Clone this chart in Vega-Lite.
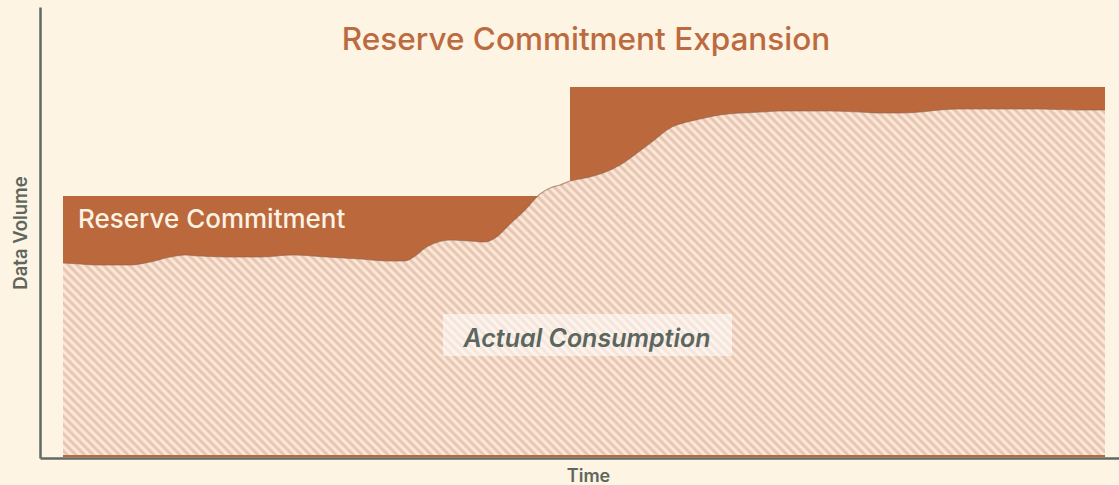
{
  "$schema": "https://vega.github.io/schema/vega-lite/v6.json",
  "width": 1079,
  "height": 451,
  "autosize": {"type": "none"},
  "padding": {"left": 40, "top": 7, "right": 0, "bottom": 27},
  "background": "#fdf4e3",
  "config": {"view": {"stroke": null}},
  "datasets": {
    "reserve": [
      {"t": 0, "v": 261},
      {"t": 507, "v": 370},
      {"t": 1042, "v": 370}
    ],
    "usage": [
      {"t": 0, "v": 194}, {"t": 17, "v": 193}, {"t": 37, "v": 192}, {"t": 67, "v": 192},
      {"t": 87, "v": 195}, {"t": 107, "v": 200}, {"t": 122, "v": 202}, {"t": 137, "v": 201},
      {"t": 167, "v": 200}, {"t": 197, "v": 200}, {"t": 230, "v": 202}, {"t": 264, "v": 200},
      {"t": 297, "v": 198}, {"t": 327, "v": 196}, {"t": 342, "v": 196}, {"t": 352, "v": 201},
      {"t": 362, "v": 209}, {"t": 372, "v": 214}, {"t": 387, "v": 217}, {"t": 407, "v": 216},
      {"t": 422, "v": 215}, {"t": 432, "v": 219}, {"t": 447, "v": 233}, {"t": 462, "v": 247},
      {"t": 477, "v": 263}, {"t": 487, "v": 269}, {"t": 497, "v": 272}, {"t": 507, "v": 276},
      {"t": 522, "v": 279}, {"t": 540, "v": 284}, {"t": 557, "v": 292}, {"t": 574, "v": 304},
      {"t": 590, "v": 316}, {"t": 607, "v": 329}, {"t": 624, "v": 335}, {"t": 637, "v": 338},
      {"t": 657, "v": 342}, {"t": 677, "v": 344}, {"t": 697, "v": 345}, {"t": 717, "v": 346},
      {"t": 737, "v": 346}, {"t": 767, "v": 346}, {"t": 797, "v": 345}, {"t": 817, "v": 344},
      {"t": 837, "v": 344}, {"t": 857, "v": 345}, {"t": 877, "v": 347}, {"t": 897, "v": 348},
      {"t": 937, "v": 348}, {"t": 977, "v": 348}, {"t": 1017, "v": 347}, {"t": 1042, "v": 347}
    ],
    "labels": [
      {"t": 15, "v": 237, "label": "Reserve Commitment", "kind": "reserve"},
      {"t": 524, "v": 118, "label": "Actual Consumption", "kind": "usage"},
      {"t": 523, "v": 407, "label": "Reserve Commitment Expansion", "kind": "title"}
    ],
    "box": [
      {"t0": 380, "t1": 669, "v0": 101, "v1": 143}
    ]
  },
  "layer": [
    {
      "data": {"name": "reserve"},
      "mark": {"type": "area", "interpolate": "step-after", "color": "#bc683d"},
      "encoding": {
        "x": {"field": "t", "type": "quantitative", "scale": {"domain": [-23, 1056], "nice": false, "zero": false},
          "axis": {"title": "Time", "domain": true, "domainColor": "#5f6b63", "domainWidth": 2.5, "ticks": false, "labels": false, "grid": false,
            "titleFont": "Inter", "titleFontSize": 18, "titleFontWeight": 600, "titleColor": "#5d675f", "titlePadding": 9, "titleX": 548}},
        "y": {"field": "v", "type": "quantitative", "scale": {"domain": [-1, 450], "nice": false, "zero": false},
          "axis": {"title": "Data Volume", "domain": true, "domainColor": "#5f6b63", "domainWidth": 2.5, "ticks": false, "labels": false, "grid": false,
            "titleFont": "Inter", "titleFontSize": 18.5, "titleFontWeight": 600, "titleColor": "#5d675f", "titlePadding": 10}},
        "y2": {"datum": 0}
      }
    },
    {
      "data": {"name": "usage"},
      "mark": {"type": "area", "interpolate": "monotone",
        "fill": {"gradient": "linear", "x1": 0, "y1": 1, "x2": 1.2, "y2": 0.602, "stops": [
{"offset":0,"color":"#fcefe2"},{"offset":0.0031,"color":"#e6bea8"},{"offset":0.0063,"color":"#fcefe2"},{"offset":0.0094,"color":"#e6bea8"},{"offset":0.0125,"color":"#fcefe2"},{"offset":0.0156,"color":"#e6bea8"},{"offset":0.0188,"color":"#fcefe2"},{"offset":0.0219,"color":"#e6bea8"},{"offset":0.025,"color":"#fcefe2"},{"offset":0.0281,"color":"#e6bea8"},
{"offset":0.0313,"color":"#fcefe2"},{"offset":0.0344,"color":"#e6bea8"},{"offset":0.0375,"color":"#fcefe2"},{"offset":0.0406,"color":"#e6bea8"},{"offset":0.0438,"color":"#fcefe2"},{"offset":0.0469,"color":"#e6bea8"},{"offset":0.05,"color":"#fcefe2"},{"offset":0.0531,"color":"#e6bea8"},{"offset":0.0563,"color":"#fcefe2"},{"offset":0.0594,"color":"#e6bea8"},
{"offset":0.0625,"color":"#fcefe2"},{"offset":0.0656,"color":"#e6bea8"},{"offset":0.0688,"color":"#fcefe2"},{"offset":0.0719,"color":"#e6bea8"},{"offset":0.075,"color":"#fcefe2"},{"offset":0.0781,"color":"#e6bea8"},{"offset":0.0813,"color":"#fcefe2"},{"offset":0.0844,"color":"#e6bea8"},{"offset":0.0875,"color":"#fcefe2"},{"offset":0.0906,"color":"#e6bea8"},
{"offset":0.0938,"color":"#fcefe2"},{"offset":0.0969,"color":"#e6bea8"},{"offset":0.1,"color":"#fcefe2"},{"offset":0.1031,"color":"#e6bea8"},{"offset":0.1063,"color":"#fcefe2"},{"offset":0.1094,"color":"#e6bea8"},{"offset":0.1125,"color":"#fcefe2"},{"offset":0.1156,"color":"#e6bea8"},{"offset":0.1188,"color":"#fcefe2"},{"offset":0.1219,"color":"#e6bea8"},
{"offset":0.125,"color":"#fcefe2"},{"offset":0.1281,"color":"#e6bea8"},{"offset":0.1313,"color":"#fcefe2"},{"offset":0.1344,"color":"#e6bea8"},{"offset":0.1375,"color":"#fcefe2"},{"offset":0.1406,"color":"#e6bea8"},{"offset":0.1438,"color":"#fcefe2"},{"offset":0.1469,"color":"#e6bea8"},{"offset":0.15,"color":"#fcefe2"},{"offset":0.1531,"color":"#e6bea8"},
{"offset":0.1563,"color":"#fcefe2"},{"offset":0.1594,"color":"#e6bea8"},{"offset":0.1625,"color":"#fcefe2"},{"offset":0.1656,"color":"#e6bea8"},{"offset":0.1688,"color":"#fcefe2"},{"offset":0.1719,"color":"#e6bea8"},{"offset":0.175,"color":"#fcefe2"},{"offset":0.1781,"color":"#e6bea8"},{"offset":0.1813,"color":"#fcefe2"},{"offset":0.1844,"color":"#e6bea8"},
{"offset":0.1875,"color":"#fcefe2"},{"offset":0.1906,"color":"#e6bea8"},{"offset":0.1938,"color":"#fcefe2"},{"offset":0.1969,"color":"#e6bea8"},{"offset":0.2,"color":"#fcefe2"},{"offset":0.2031,"color":"#e6bea8"},{"offset":0.2063,"color":"#fcefe2"},{"offset":0.2094,"color":"#e6bea8"},{"offset":0.2125,"color":"#fcefe2"},{"offset":0.2156,"color":"#e6bea8"},
{"offset":0.2188,"color":"#fcefe2"},{"offset":0.2219,"color":"#e6bea8"},{"offset":0.225,"color":"#fcefe2"},{"offset":0.2281,"color":"#e6bea8"},{"offset":0.2313,"color":"#fcefe2"},{"offset":0.2344,"color":"#e6bea8"},{"offset":0.2375,"color":"#fcefe2"},{"offset":0.2406,"color":"#e6bea8"},{"offset":0.2438,"color":"#fcefe2"},{"offset":0.2469,"color":"#e6bea8"},
{"offset":0.25,"color":"#fcefe2"},{"offset":0.2531,"color":"#e6bea8"},{"offset":0.2563,"color":"#fcefe2"},{"offset":0.2594,"color":"#e6bea8"},{"offset":0.2625,"color":"#fcefe2"},{"offset":0.2656,"color":"#e6bea8"},{"offset":0.2688,"color":"#fcefe2"},{"offset":0.2719,"color":"#e6bea8"},{"offset":0.275,"color":"#fcefe2"},{"offset":0.2781,"color":"#e6bea8"},
{"offset":0.2813,"color":"#fcefe2"},{"offset":0.2844,"color":"#e6bea8"},{"offset":0.2875,"color":"#fcefe2"},{"offset":0.2906,"color":"#e6bea8"},{"offset":0.2938,"color":"#fcefe2"},{"offset":0.2969,"color":"#e6bea8"},{"offset":0.3,"color":"#fcefe2"},{"offset":0.3031,"color":"#e6bea8"},{"offset":0.3063,"color":"#fcefe2"},{"offset":0.3094,"color":"#e6bea8"},
{"offset":0.3125,"color":"#fcefe2"},{"offset":0.3156,"color":"#e6bea8"},{"offset":0.3188,"color":"#fcefe2"},{"offset":0.3219,"color":"#e6bea8"},{"offset":0.325,"color":"#fcefe2"},{"offset":0.3281,"color":"#e6bea8"},{"offset":0.3313,"color":"#fcefe2"},{"offset":0.3344,"color":"#e6bea8"},{"offset":0.3375,"color":"#fcefe2"},{"offset":0.3406,"color":"#e6bea8"},
{"offset":0.3438,"color":"#fcefe2"},{"offset":0.3469,"color":"#e6bea8"},{"offset":0.35,"color":"#fcefe2"},{"offset":0.3531,"color":"#e6bea8"},{"offset":0.3563,"color":"#fcefe2"},{"offset":0.3594,"color":"#e6bea8"},{"offset":0.3625,"color":"#fcefe2"},{"offset":0.3656,"color":"#e6bea8"},{"offset":0.3688,"color":"#fcefe2"},{"offset":0.3719,"color":"#e6bea8"},
{"offset":0.375,"color":"#fcefe2"},{"offset":0.3781,"color":"#e6bea8"},{"offset":0.3813,"color":"#fcefe2"},{"offset":0.3844,"color":"#e6bea8"},{"offset":0.3875,"color":"#fcefe2"},{"offset":0.3906,"color":"#e6bea8"},{"offset":0.3938,"color":"#fcefe2"},{"offset":0.3969,"color":"#e6bea8"},{"offset":0.4,"color":"#fcefe2"},{"offset":0.4031,"color":"#e6bea8"},
{"offset":0.4063,"color":"#fcefe2"},{"offset":0.4094,"color":"#e6bea8"},{"offset":0.4125,"color":"#fcefe2"},{"offset":0.4156,"color":"#e6bea8"},{"offset":0.4188,"color":"#fcefe2"},{"offset":0.4219,"color":"#e6bea8"},{"offset":0.425,"color":"#fcefe2"},{"offset":0.4281,"color":"#e6bea8"},{"offset":0.4313,"color":"#fcefe2"},{"offset":0.4344,"color":"#e6bea8"},
{"offset":0.4375,"color":"#fcefe2"},{"offset":0.4406,"color":"#e6bea8"},{"offset":0.4438,"color":"#fcefe2"},{"offset":0.4469,"color":"#e6bea8"},{"offset":0.45,"color":"#fcefe2"},{"offset":0.4531,"color":"#e6bea8"},{"offset":0.4563,"color":"#fcefe2"},{"offset":0.4594,"color":"#e6bea8"},{"offset":0.4625,"color":"#fcefe2"},{"offset":0.4656,"color":"#e6bea8"},
{"offset":0.4688,"color":"#fcefe2"},{"offset":0.4719,"color":"#e6bea8"},{"offset":0.475,"color":"#fcefe2"},{"offset":0.4781,"color":"#e6bea8"},{"offset":0.4813,"color":"#fcefe2"},{"offset":0.4844,"color":"#e6bea8"},{"offset":0.4875,"color":"#fcefe2"},{"offset":0.4906,"color":"#e6bea8"},{"offset":0.4938,"color":"#fcefe2"},{"offset":0.4969,"color":"#e6bea8"},
{"offset":0.5,"color":"#fcefe2"},{"offset":0.5031,"color":"#e6bea8"},{"offset":0.5063,"color":"#fcefe2"},{"offset":0.5094,"color":"#e6bea8"},{"offset":0.5125,"color":"#fcefe2"},{"offset":0.5156,"color":"#e6bea8"},{"offset":0.5188,"color":"#fcefe2"},{"offset":0.5219,"color":"#e6bea8"},{"offset":0.525,"color":"#fcefe2"},{"offset":0.5281,"color":"#e6bea8"},
{"offset":0.5313,"color":"#fcefe2"},{"offset":0.5344,"color":"#e6bea8"},{"offset":0.5375,"color":"#fcefe2"},{"offset":0.5406,"color":"#e6bea8"},{"offset":0.5438,"color":"#fcefe2"},{"offset":0.5469,"color":"#e6bea8"},{"offset":0.55,"color":"#fcefe2"},{"offset":0.5531,"color":"#e6bea8"},{"offset":0.5563,"color":"#fcefe2"},{"offset":0.5594,"color":"#e6bea8"},
{"offset":0.5625,"color":"#fcefe2"},{"offset":0.5656,"color":"#e6bea8"},{"offset":0.5688,"color":"#fcefe2"},{"offset":0.5719,"color":"#e6bea8"},{"offset":0.575,"color":"#fcefe2"},{"offset":0.5781,"color":"#e6bea8"},{"offset":0.5813,"color":"#fcefe2"},{"offset":0.5844,"color":"#e6bea8"},{"offset":0.5875,"color":"#fcefe2"},{"offset":0.5906,"color":"#e6bea8"},
{"offset":0.5938,"color":"#fcefe2"},{"offset":0.5969,"color":"#e6bea8"},{"offset":0.6,"color":"#fcefe2"},{"offset":0.6031,"color":"#e6bea8"},{"offset":0.6063,"color":"#fcefe2"},{"offset":0.6094,"color":"#e6bea8"},{"offset":0.6125,"color":"#fcefe2"},{"offset":0.6156,"color":"#e6bea8"},{"offset":0.6188,"color":"#fcefe2"},{"offset":0.6219,"color":"#e6bea8"},
{"offset":0.625,"color":"#fcefe2"},{"offset":0.6281,"color":"#e6bea8"},{"offset":0.6313,"color":"#fcefe2"},{"offset":0.6344,"color":"#e6bea8"},{"offset":0.6375,"color":"#fcefe2"},{"offset":0.6406,"color":"#e6bea8"},{"offset":0.6438,"color":"#fcefe2"},{"offset":0.6469,"color":"#e6bea8"},{"offset":0.65,"color":"#fcefe2"},{"offset":0.6531,"color":"#e6bea8"},
{"offset":0.6563,"color":"#fcefe2"},{"offset":0.6594,"color":"#e6bea8"},{"offset":0.6625,"color":"#fcefe2"},{"offset":0.6656,"color":"#e6bea8"},{"offset":0.6688,"color":"#fcefe2"},{"offset":0.6719,"color":"#e6bea8"},{"offset":0.675,"color":"#fcefe2"},{"offset":0.6781,"color":"#e6bea8"},{"offset":0.6813,"color":"#fcefe2"},{"offset":0.6844,"color":"#e6bea8"},
{"offset":0.6875,"color":"#fcefe2"},{"offset":0.6906,"color":"#e6bea8"},{"offset":0.6938,"color":"#fcefe2"},{"offset":0.6969,"color":"#e6bea8"},{"offset":0.7,"color":"#fcefe2"},{"offset":0.7031,"color":"#e6bea8"},{"offset":0.7063,"color":"#fcefe2"},{"offset":0.7094,"color":"#e6bea8"},{"offset":0.7125,"color":"#fcefe2"},{"offset":0.7156,"color":"#e6bea8"},
{"offset":0.7188,"color":"#fcefe2"},{"offset":0.7219,"color":"#e6bea8"},{"offset":0.725,"color":"#fcefe2"},{"offset":0.7281,"color":"#e6bea8"},{"offset":0.7313,"color":"#fcefe2"},{"offset":0.7344,"color":"#e6bea8"},{"offset":0.7375,"color":"#fcefe2"},{"offset":0.7406,"color":"#e6bea8"},{"offset":0.7438,"color":"#fcefe2"},{"offset":0.7469,"color":"#e6bea8"},
{"offset":0.75,"color":"#fcefe2"},{"offset":0.7531,"color":"#e6bea8"},{"offset":0.7563,"color":"#fcefe2"},{"offset":0.7594,"color":"#e6bea8"},{"offset":0.7625,"color":"#fcefe2"},{"offset":0.7656,"color":"#e6bea8"},{"offset":0.7688,"color":"#fcefe2"},{"offset":0.7719,"color":"#e6bea8"},{"offset":0.775,"color":"#fcefe2"},{"offset":0.7781,"color":"#e6bea8"},
{"offset":0.7813,"color":"#fcefe2"},{"offset":0.7844,"color":"#e6bea8"},{"offset":0.7875,"color":"#fcefe2"},{"offset":0.7906,"color":"#e6bea8"},{"offset":0.7938,"color":"#fcefe2"},{"offset":0.7969,"color":"#e6bea8"},{"offset":0.8,"color":"#fcefe2"},{"offset":0.8031,"color":"#e6bea8"},{"offset":0.8063,"color":"#fcefe2"},{"offset":0.8094,"color":"#e6bea8"},
{"offset":0.8125,"color":"#fcefe2"},{"offset":0.8156,"color":"#e6bea8"},{"offset":0.8188,"color":"#fcefe2"},{"offset":0.8219,"color":"#e6bea8"},{"offset":0.825,"color":"#fcefe2"},{"offset":0.8281,"color":"#e6bea8"},{"offset":0.8313,"color":"#fcefe2"},{"offset":0.8344,"color":"#e6bea8"},{"offset":0.8375,"color":"#fcefe2"},{"offset":0.8406,"color":"#e6bea8"},
{"offset":0.8438,"color":"#fcefe2"},{"offset":0.8469,"color":"#e6bea8"},{"offset":0.85,"color":"#fcefe2"},{"offset":0.8531,"color":"#e6bea8"},{"offset":0.8563,"color":"#fcefe2"},{"offset":0.8594,"color":"#e6bea8"},{"offset":0.8625,"color":"#fcefe2"},{"offset":0.8656,"color":"#e6bea8"},{"offset":0.8688,"color":"#fcefe2"},{"offset":0.8719,"color":"#e6bea8"},
{"offset":0.875,"color":"#fcefe2"},{"offset":0.8781,"color":"#e6bea8"},{"offset":0.8813,"color":"#fcefe2"},{"offset":0.8844,"color":"#e6bea8"},{"offset":0.8875,"color":"#fcefe2"},{"offset":0.8906,"color":"#e6bea8"},{"offset":0.8938,"color":"#fcefe2"},{"offset":0.8969,"color":"#e6bea8"},{"offset":0.9,"color":"#fcefe2"},{"offset":0.9031,"color":"#e6bea8"},
{"offset":0.9063,"color":"#fcefe2"},{"offset":0.9094,"color":"#e6bea8"},{"offset":0.9125,"color":"#fcefe2"},{"offset":0.9156,"color":"#e6bea8"},{"offset":0.9188,"color":"#fcefe2"},{"offset":0.9219,"color":"#e6bea8"},{"offset":0.925,"color":"#fcefe2"},{"offset":0.9281,"color":"#e6bea8"},{"offset":0.9313,"color":"#fcefe2"},{"offset":0.9344,"color":"#e6bea8"},
{"offset":0.9375,"color":"#fcefe2"},{"offset":0.9406,"color":"#e6bea8"},{"offset":0.9438,"color":"#fcefe2"},{"offset":0.9469,"color":"#e6bea8"},{"offset":0.95,"color":"#fcefe2"},{"offset":0.9531,"color":"#e6bea8"},{"offset":0.9563,"color":"#fcefe2"},{"offset":0.9594,"color":"#e6bea8"},{"offset":0.9625,"color":"#fcefe2"},{"offset":0.9656,"color":"#e6bea8"},
{"offset":0.9688,"color":"#fcefe2"},{"offset":0.9719,"color":"#e6bea8"},{"offset":0.975,"color":"#fcefe2"},{"offset":0.9781,"color":"#e6bea8"},{"offset":0.9813,"color":"#fcefe2"},{"offset":0.9844,"color":"#e6bea8"},{"offset":0.9875,"color":"#fcefe2"},{"offset":0.9906,"color":"#e6bea8"},{"offset":0.9938,"color":"#fcefe2"},{"offset":0.9969,"color":"#e6bea8"},
{"offset":1,"color":"#fcefe2"}
        ]}},
      "encoding": {
        "x": {"field": "t", "type": "quantitative"},
        "y": {"field": "v", "type": "quantitative"},
        "y2": {"datum": 2}
      }
    },
    {
      "data": {"name": "usage"},
      "mark": {"type": "line", "interpolate": "monotone", "stroke": "#8f5f4a", "strokeWidth": 1.2, "opacity": 0.6},
      "encoding": {
        "x": {"field": "t", "type": "quantitative"},
        "y": {"field": "v", "type": "quantitative"}
      }
    },
    {
      "data": {"name": "box"},
      "mark": {"type": "rect", "fill": "#ffffff", "opacity": 0.55},
      "encoding": {
        "x": {"field": "t0", "type": "quantitative"},
        "x2": {"field": "t1"},
        "y": {"field": "v0", "type": "quantitative"},
        "y2": {"field": "v1"}
      }
    },
    {
      "data": {"name": "labels"},
      "transform": [{"filter": "datum.kind == 'reserve'"}],
      "mark": {"type": "text", "align": "left", "baseline": "middle", "font": "Inter", "fontSize": 26, "fontWeight": 500, "color": "#fdf2e3"},
      "encoding": {
        "x": {"field": "t", "type": "quantitative"},
        "y": {"field": "v", "type": "quantitative"},
        "text": {"field": "label"}
      }
    },
    {
      "data": {"name": "labels"},
      "transform": [{"filter": "datum.kind == 'usage'"}],
      "mark": {"type": "text", "align": "center", "baseline": "middle", "font": "Inter", "fontSize": 25, "fontStyle": "italic", "fontWeight": 600, "color": "#5b665e"},
      "encoding": {
        "x": {"field": "t", "type": "quantitative"},
        "y": {"field": "v", "type": "quantitative"},
        "text": {"field": "label"}
      }
    },
    {
      "data": {"name": "labels"},
      "transform": [{"filter": "datum.kind == 'title'"}],
      "mark": {"type": "text", "align": "center", "baseline": "alphabetic", "font": "Inter", "fontSize": 31.5, "fontWeight": 500, "color": "#bc6a40"},
      "encoding": {
        "x": {"field": "t", "type": "quantitative"},
        "y": {"field": "v", "type": "quantitative"},
        "text": {"field": "label"}
      }
    }
  ]
}
